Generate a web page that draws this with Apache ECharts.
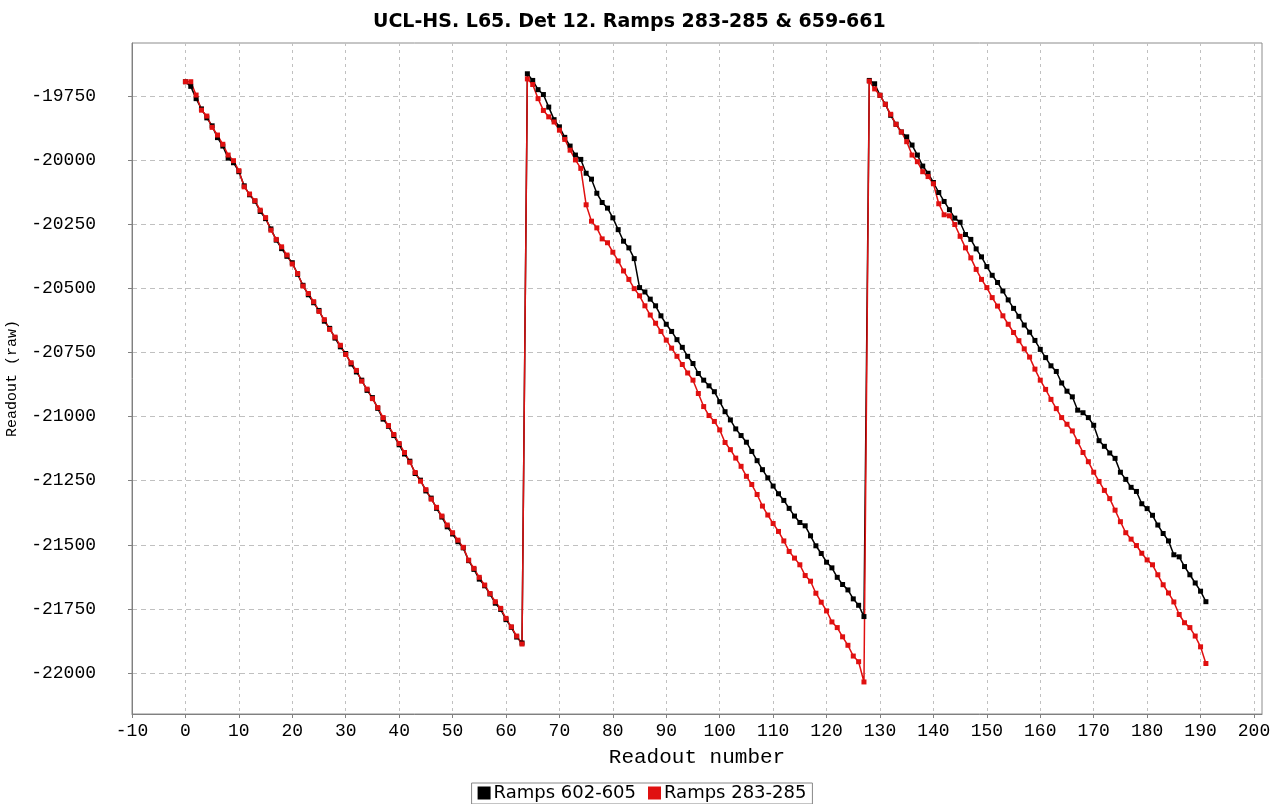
<!DOCTYPE html>
<html>
<head>
<meta charset="utf-8">
<script src="https://cdn.jsdelivr.net/npm/echarts@6/dist/echarts.min.js"></script>
<style>
html,body{margin:0;padding:0;background:#fff;}
#chart{width:1284px;height:804px;}
</style>
</head>
<body>
<div id="chart"></div>
<script>
// Tick labels
const xTicks = [-10,0,10,20,30,40,50,60,70,80,90,100,110,120,130,140,150,160,170,180,190,200];
const yTicks = [-22000,-21750,-21500,-21250,-21000,-20750,-20500,-20250,-20000,-19750];

// Series names
const seriesNames = ['Ramps 602-605', 'Ramps 283-285'];

// Black series (Ramps 602-605), readouts 0..191
const blackRamp1 = [
-19694,-19712,-19760,-19800,-19835,-19866,-19912,-19945,-19992,-20010,
-20045,-20100,-20135,-20160,-20200,-20228,-20268,-20312,-20345,-20375,
-20400,-20445,-20488,-20525,-20556,-20586,-20628,-20656,-20694,-20728,
-20754,-20795,-20826,-20858,-20898,-20926,-20968,-21010,-21038,-21074,
-21110,-21146,-21174,-21222,-21248,-21290,-21318,-21358,-21392,-21430,
-21458,-21488,-21512,-21562,-21596,-21634,-21660,-21692,-21728,-21752,
-21792,-21822,-21860,-21883];
const blackRamp2 = [
-19663,-19689,-19725,-19744,-19793,-19842,-19870,-19911,-19945,-19980,
-19997,-20051,-20074,-20129,-20165,-20187,-20225,-20271,-20316,-20342,
-20384,-20497,-20514,-20542,-20568,-20607,-20640,-20668,-20700,-20730,
-20765,-20793,-20832,-20858,-20880,-20903,-20942,-20981,-21013,-21048,
-21074,-21100,-21136,-21172,-21207,-21239,-21271,-21301,-21327,-21358,
-21388,-21413,-21426,-21465,-21504,-21534,-21568,-21590,-21627,-21655,
-21676,-21711,-21736,-21780];
const blackRamp3 = [
-19689,-19702,-19747,-19782,-19825,-19860,-19890,-19909,-19941,-19980,
-20023,-20051,-20087,-20126,-20161,-20193,-20226,-20242,-20290,-20309,
-20346,-20377,-20415,-20449,-20477,-20510,-20545,-20578,-20609,-20643,
-20671,-20703,-20738,-20770,-20802,-20824,-20869,-20901,-20923,-20975,
-20985,-21004,-21034,-21094,-21116,-21142,-21163,-21217,-21245,-21276,
-21292,-21340,-21359,-21385,-21423,-21456,-21485,-21539,-21547,-21585,
-21617,-21649,-21681,-21722];

// Red series (Ramps 283-285), readouts 0..191
const redRamp1 = [
-19694,-19694,-19746,-19805,-19828,-19872,-19902,-19938,-19980,-20002,
-20041,-20104,-20132,-20158,-20195,-20224,-20273,-20309,-20338,-20370,
-20405,-20442,-20491,-20520,-20552,-20590,-20622,-20660,-20690,-20722,
-20758,-20790,-20820,-20862,-20893,-20930,-20965,-21004,-21035,-21070,
-21105,-21140,-21178,-21218,-21252,-21285,-21322,-21354,-21388,-21423,
-21453,-21482,-21510,-21560,-21592,-21627,-21657,-21690,-21722,-21748,
-21787,-21820,-21856,-21887];
const redRamp2 = [
-19683,-19705,-19760,-19806,-19831,-19851,-19883,-19919,-19961,-19999,
-20032,-20174,-20238,-20264,-20307,-20322,-20359,-20393,-20432,-20465,
-20501,-20529,-20568,-20604,-20636,-20668,-20702,-20733,-20765,-20797,
-20830,-20858,-20910,-20961,-20996,-21019,-21052,-21101,-21129,-21162,
-21194,-21233,-21265,-21304,-21349,-21384,-21417,-21448,-21485,-21526,
-21552,-21578,-21620,-21642,-21689,-21724,-21758,-21801,-21823,-21859,
-21892,-21934,-21956,-22035];
const redRamp3 = [
-19692,-19722,-19747,-19782,-19821,-19860,-19890,-19928,-19980,-20006,
-20045,-20064,-20092,-20170,-20213,-20217,-20251,-20297,-20342,-20381,
-20426,-20465,-20497,-20536,-20569,-20607,-20640,-20672,-20704,-20736,
-20768,-20815,-20858,-20894,-20933,-20969,-21004,-21030,-21056,-21098,
-21140,-21176,-21217,-21253,-21288,-21320,-21365,-21410,-21453,-21478,
-21503,-21533,-21559,-21578,-21617,-21656,-21688,-21723,-21772,-21804,
-21823,-21856,-21898,-21963];

const blackValues = blackRamp1.concat(blackRamp2, blackRamp3);
const redValues = redRamp1.concat(redRamp2, redRamp3);
const readout = blackValues.map((v, i) => i);

const blackData = readout.map((x, i) => [x, blackValues[i]]);
const redData = readout.map((x, i) => [x, redValues[i]]);

const chart = echarts.init(document.getElementById('chart'), null, {renderer: 'canvas'});
const mono = 'Liberation Mono';
chart.setOption({
  animation: false,
  backgroundColor: '#ffffff',
  title: {
    text: 'UCL-HS. L65. Det 12. Ramps 283-285 & 659-661',
    left: 368, top: 8,
    textStyle: {fontFamily: 'DejaVu Sans', fontWeight: 'bold', fontSize: 19, color: '#000'}
  },
  legend: {
    bottom: 0, left: 'center',
    data: [
      {name: seriesNames[0], icon: 'rect'},
      {name: seriesNames[1], icon: 'rect'}
    ],
    itemWidth: 13, itemHeight: 13, itemGap: 12,
    borderColor: '#888', borderWidth: 1, borderRadius: 0,
    padding: [1, 6, 2, 6],
    textStyle: {fontFamily: 'DejaVu Sans', fontSize: 18, color: '#000', padding: [0,0,0,-2]}
  },
  grid: {
    left: 132, right: 22, top: 43, bottom: 90,
    outerBoundsMode: 'none', containLabel: false,
    show: true, borderColor: '#8c8c8c', borderWidth: 1, backgroundColor: '#fff'
  },
  xAxis: {
    type: 'value', min: -10, max: 201.5,
    name: 'Readout number', nameLocation: 'middle', nameGap: 33,
    nameTextStyle: {fontFamily: mono, fontSize: 21, color: '#000'},
    axisLine: {show: true, onZero: false, lineStyle: {color: '#808080', width: 1}},
    axisTick: {show: true, length: 4, lineStyle: {color: '#808080'}, customValues: xTicks},
    axisLabel: {fontFamily: mono, fontSize: 18, color: '#000', margin: 8, customValues: xTicks,
      formatter: v => String(v)},
    splitLine: {show: true, lineStyle: {color: '#c0c0c0', type: [3, 4], width: 1}}
  },
  yAxis: {
    type: 'value', min: -22160, max: -19543,
    name: 'Readout (raw)', nameLocation: 'middle', nameGap: 112,
    nameTextStyle: {fontFamily: mono, fontSize: 15, color: '#000'},
    axisLine: {show: true, onZero: false, lineStyle: {color: '#808080', width: 1}},
    axisTick: {show: true, length: 4, lineStyle: {color: '#808080'}, customValues: yTicks},
    axisLabel: {fontFamily: mono, fontSize: 18, color: '#000', margin: 36, customValues: yTicks,
      formatter: v => String(v)},
    splitLine: {show: true, lineStyle: {color: '#c0c0c0', type: [5, 4], width: 1}}
  },
  series: [
    {
      name: seriesNames[0], type: 'line', data: blackData,
      symbol: 'rect', symbolSize: 5, showAllSymbol: true,
      itemStyle: {color: '#000000'},
      lineStyle: {color: '#000000', width: 1.5}
    },
    {
      name: seriesNames[1], type: 'line', data: redData,
      symbol: 'rect', symbolSize: 5, showAllSymbol: true,
      itemStyle: {color: '#e01010'},
      lineStyle: {color: '#e01010', width: 1.5}
    }
  ]
});
</script>
</body>
</html>
